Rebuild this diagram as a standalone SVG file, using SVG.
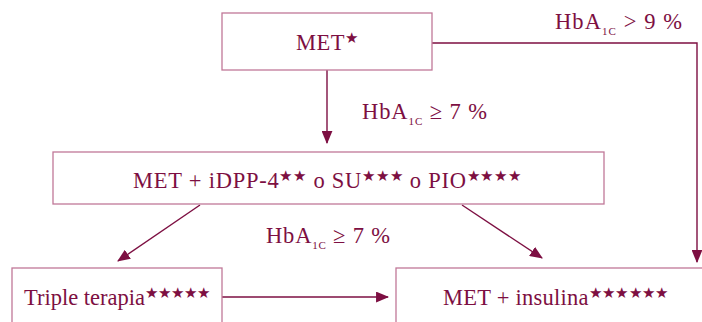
<svg xmlns="http://www.w3.org/2000/svg" width="702" height="322" viewBox="0 0 702 322">
<style>
.box{fill:#fff;stroke:#c07898;stroke-width:1.3}
.t{font-family:"Liberation Serif",serif;font-size:22.5px;fill:#7d0f42}
.s{font-size:15px}
.sub{font-size:11px}
.c{fill:none;stroke:#7d0f42;stroke-width:1.4}
</style>
<defs>
<marker id="ah" viewBox="0 0 12 10" refX="11" refY="5" markerWidth="13" markerHeight="11" markerUnits="userSpaceOnUse" orient="auto">
<path d="M0,0 L12,5 L0,10 z" fill="#7d0f42"/>
</marker>
</defs>
<rect width="702" height="322" fill="#fff"/>
<g id="connectors">
<path class="c" d="M327,70 V143" marker-end="url(#ah)"/>
<path class="c" d="M432,43 H697 V262" marker-end="url(#ah)"/>
<path class="c" d="M200,205 L118,261" marker-end="url(#ah)"/>
<path class="c" d="M462,205 L542,258" marker-end="url(#ah)"/>
<path class="c" d="M222,297 H388" marker-end="url(#ah)"/>
<text class="t" x="362" y="119" textLength="125" lengthAdjust="spacing">HbA<tspan class="sub" dy="6">1C</tspan><tspan dy="-6"> ≥ 7 %</tspan></text>
<text class="t" x="266" y="243" textLength="124" lengthAdjust="spacing">HbA<tspan class="sub" dy="6">1C</tspan><tspan dy="-6"> ≥ 7 %</tspan></text>
<text class="t" x="555" y="29" textLength="127" lengthAdjust="spacing">HbA<tspan class="sub" dy="6">1C</tspan><tspan dy="-6"> &gt; 9 %</tspan></text>
</g>
<g id="met">
<rect class="box" x="222" y="13" width="210" height="57"/>
<text class="t" x="296" y="50" textLength="62" lengthAdjust="spacing">MET<tspan class="s" dy="-7">★</tspan></text>
</g>
<g id="combo">
<rect class="box" x="53" y="152" width="551" height="52"/>
<text class="t" x="133" y="188" textLength="388" lengthAdjust="spacing">MET + iDPP-4<tspan class="s" dy="-7">★★</tspan><tspan dy="7"> o SU</tspan><tspan class="s" dy="-7">★★★</tspan><tspan dy="7"> o PIO</tspan><tspan class="s" dy="-7">★★★★</tspan></text>
</g>
<g id="triple">
<rect class="box" x="12" y="268" width="210" height="60"/>
<text class="t" x="24" y="305" textLength="186" lengthAdjust="spacing">Triple terapia<tspan class="s" dy="-7">★★★★★</tspan></text>
</g>
<g id="insulina">
<rect class="box" x="396" y="268" width="320" height="60"/>
<text class="t" x="443" y="305" textLength="225" lengthAdjust="spacing">MET + insulina<tspan class="s" dy="-7">★★★★★★</tspan></text>
</g>
</svg>
